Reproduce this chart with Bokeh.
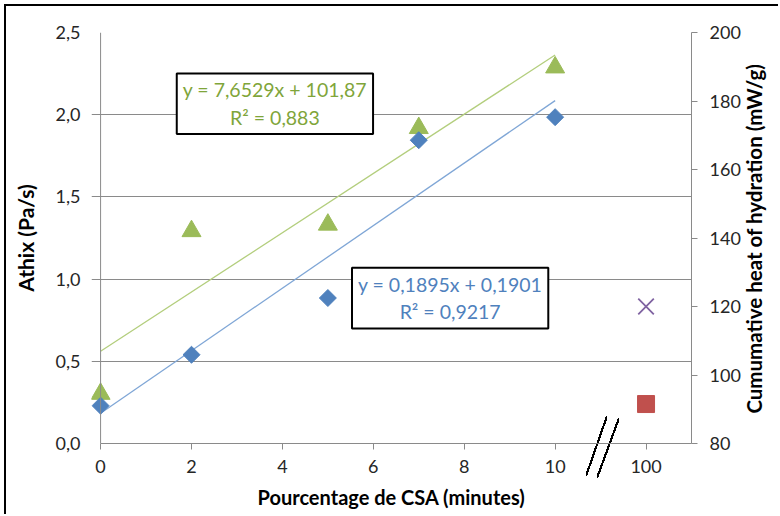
import numpy as np
from bokeh.plotting import figure
from bokeh.models import Range1d, LinearAxis, Label, FixedTicker, Span
from bokeh.embed import file_html
from bokeh.resources import INLINE

# ---------------- data ----------------
minutes = [0, 2, 5, 7, 10]
athix = [0.23, 0.54, 0.885, 1.845, 1.985]          # left axis (Pa/s)
heat = [94.5, 142.0, 143.9, 172.1, 189.8]          # right axis (mW/g)
ref_category = "100"                                # shown after the axis break
ref_athix = [0.24]
ref_heat = [120.0]
x_ticks = [0, 2, 4, 6, 8, 10, 12]
x_tick_labels = ["0", "2", "4", "6", "8", "10", "100"]
left_ticks = [0.0, 0.5, 1.0, 1.5, 2.0, 2.5]
left_tick_labels = ["0,0", "0,5", "1,0", "1,5", "2,0", "2,5"]
right_ticks = [80, 100, 120, 140, 160, 180, 200]
eq_heat = "y = 7,6529x + 101,87\nR² = 0,883"
eq_athix = "y = 0,1895x + 0,1901\nR² = 0,9217"
right_title = "Cumumative heat of hydration  (mW/g)"

# position of the "100" category on the broken axis
ref_pos = x_ticks[x_tick_labels.index(ref_category)]

BLUE = "#4F81BD"
GREEN = "#9BBB59"
RED = "#C0504D"
PURPLE = "#8064A2"
GRID = "#8A8A8A"
FONT = "Lato"

# axis-break "//" marks are drawn as a CSS background behind the transparent canvas
stroke = "linear-gradient(to bottom right, transparent calc(50% - 1.1px), #000 calc(50% - 1.1px), #000 calc(50% + 1.1px), transparent calc(50% + 1.1px))"
host_styles = {
    "margin-left": "4px", "margin-top": "4px",
    "border-left": "2px solid black", "border-top": "2px solid black",
    "background-color": "white",
    "background-image": f"{stroke}, {stroke}",
    "background-position": "580px 410px, 591px 412px",
    "background-size": "21px 60px, 22px 60px",
    "background-repeat": "no-repeat",
}

X_MIN, X_MAX = -0.2, 13   # small margin left of 0 so the first markers are not cut

p = figure(width=774, height=510, output_backend="svg", toolbar_location=None,
           x_range=Range1d(X_MIN, X_MAX), y_range=Range1d(0, 2.5),
           min_border_left=85, min_border_right=87, min_border_top=26, min_border_bottom=73,
           background_fill_color=None, border_fill_color=None, styles=host_styles)
p.outline_line_color = None
p.extra_y_ranges = {"heat": Range1d(80, 200)}

# axes
xa = p.xaxis[0]
xa.ticker = FixedTicker(ticks=x_ticks)
xa.major_label_overrides = {t: l for t, l in zip(x_ticks, x_tick_labels)}
xa.axis_label = "Pourcentage de CSA (minutes)"
xa.bounds = (0, X_MAX)

ya = p.yaxis[0]
ya.ticker = FixedTicker(ticks=left_ticks)
ya.major_label_overrides = {t: l for t, l in zip(left_ticks, left_tick_labels)}
ya.axis_label = "Athix (Pa/s)"

# title reads bottom-to-top; leading no-break spaces lift it to the reference position
ra = LinearAxis(y_range_name="heat", ticker=FixedTicker(ticks=right_ticks),
                axis_label="\u00a0" * 6 + right_title)
p.add_layout(ra, "right")

for ax in (xa, ya, ra):
    ax.axis_line_color = GRID
    ax.major_tick_line_color = GRID
    ax.minor_tick_line_color = None
    ax.major_tick_in = 0
    ax.major_tick_out = 6
    ax.major_label_text_font = FONT
    ax.major_label_text_font_size = "18px"
    ax.major_label_text_color = "#262626"
    ax.axis_label_text_font = FONT
    ax.axis_label_text_font_style = "bold"
    ax.axis_label_text_color = "black"
# left axis line is drawn at x = 0 (span below); its ticks merge with the grid lines
ya.axis_line_color = None
ya.major_tick_out = 0
p.add_layout(Span(location=0, dimension="height", line_color=GRID, line_width=1))

xa.axis_label_text_font_size = "20px"
ya.axis_label_text_font_size = "21px"
ra.axis_label_text_font_size = "20.5px"
ra.axis_label_orientation = np.pi / 2
ra.axis_label_align = "start"
ya.major_label_standoff = 11
ya.axis_label_standoff = 15
ra.major_label_standoff = 12
ra.axis_label_standoff = 10
xa.major_label_standoff = 10
xa.axis_label_standoff = 9

p.xgrid.visible = False
p.ygrid.ticker = FixedTicker(ticks=left_ticks)
p.ygrid.grid_line_color = GRID
p.ygrid.grid_line_width = 1

# trendlines (least-squares fits of the series)
xs_fit = np.array([min(minutes), max(minutes)], dtype=float)
fa = np.polyfit(minutes, athix, 1)
fh = np.polyfit(minutes, heat, 1)
p.line(xs_fit, np.polyval(fh, xs_fit), y_range_name="heat", line_color="#B3CE7D", line_width=1.3)
p.line(xs_fit, np.polyval(fa, xs_fit), line_color="#7FA6D6", line_width=1.3)

# series
p.scatter(minutes, heat, y_range_name="heat", marker="triangle", size=19,
          fill_color=GREEN, line_color=GREEN)
p.scatter(minutes, athix, marker="square", angle=np.pi / 4, size=12,
          fill_color=BLUE, line_color=BLUE)
p.scatter([ref_pos], ref_heat, y_range_name="heat", marker="x", size=22,
          line_color=PURPLE, line_width=1.8)
p.scatter([ref_pos], ref_athix, marker="square", size=17,
          fill_color=RED, line_color=RED)

# equation boxes
for txt, col, xx, yy in ((eq_heat, "#7FA53A", 3.835, 2.067), (eq_athix, "#4F81BD", 7.69, 0.884)):
    p.add_layout(Label(x=xx, y=yy, text=txt, text_align="center", text_baseline="middle",
                       text_color=col, text_font=FONT, text_font_size="19.5px",
                       text_line_height=1.2,
                       background_fill_color="white", border_line_color="black",
                       border_line_width=2, padding=(6, 5)))

open("out.html", "w").write(file_html(p, INLINE))
